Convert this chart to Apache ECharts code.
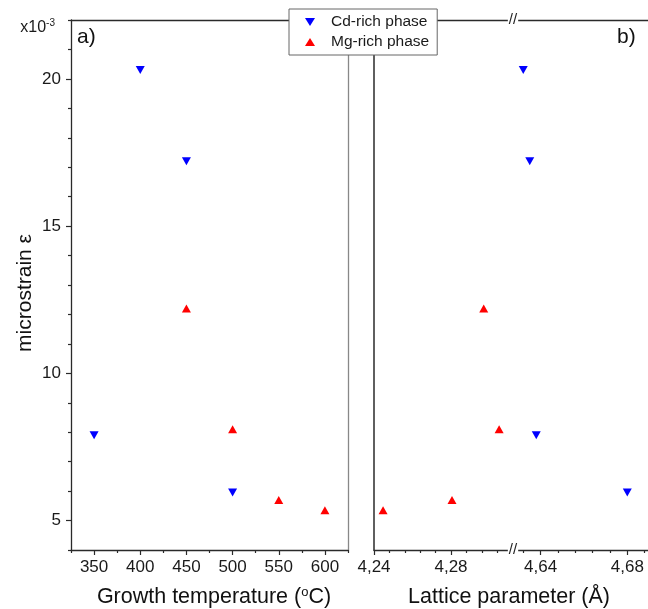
<!DOCTYPE html>
<html>
<head>
<meta charset="utf-8">
<script src="https://cdn.jsdelivr.net/npm/echarts@6/dist/echarts.min.js"></script>
<style>html,body{margin:0;padding:0;background:#fff}#c{width:648px;height:609px}</style>
</head>
<body>
<div id="c"></div>
<script>
// ---- data ----
const tempCd = [350, 400, 450, 500];
const strainCd = [7.9, 20.3, 17.2, 5.95];
const tempMg = [450, 500, 550, 600];
const strainMg = [12.2, 8.1, 5.7, 5.35];
const latticeCd = [4.632, 4.635, 4.638, 4.680];
const latticeMg = [4.2447, 4.2805, 4.297, 4.305];
const strainCdB = [20.3, 17.2, 7.9, 5.95];
const strainMgB = [5.35, 5.7, 12.2, 8.1];
const tempTicks = [350, 400, 450, 500, 550, 600];
const tempMinor = [325, 375, 425, 475, 525, 575, 625];
const strainTicks = [5, 10, 15, 20];
const strainMinor = [4, 6, 7, 8, 9, 11, 12, 13, 14, 16, 17, 18, 19, 21, 22];
const latTicksA = [4.24, 4.28];
const latMinorA = [4.248, 4.256, 4.264, 4.272, 4.288, 4.296, 4.304];
const latTicksB = [4.64, 4.68];
const latMinorB = [4.632, 4.648, 4.656, 4.664, 4.672, 4.688];

const FONT = "'Liberation Sans', Arial, sans-serif";
const DARK = '#2a2a2a';
const downTri = 'path://M0,0 L10,0 L5,8 Z';
const upTri = 'path://M5,0 L10,8 L0,8 Z';

const fmtComma = v => v.toFixed(2).replace('.', ',');

function mainX(grid, min, max, ticks, fmt) {
  return {type: 'value', gridIndex: grid, position: 'bottom', min, max,
    axisLine: {show: true, lineStyle: {color: DARK, width: 1.3}},
    axisTick: {show: true, inside: false, length: 5, customValues: ticks, lineStyle: {color: DARK, width: 1.2}},
    axisLabel: {show: true, customValues: ticks, margin: 9, fontSize: 17, color: '#1a1a1a', fontFamily: FONT, formatter: fmt},
    splitLine: {show: false}};
}
function minorX(grid, min, max, ticks) {
  return {type: 'value', gridIndex: grid, position: 'bottom', min, max,
    axisLine: {show: false},
    axisTick: {show: true, length: 3, customValues: ticks, lineStyle: {color: DARK, width: 1.2}},
    axisLabel: {show: false}, splitLine: {show: false}};
}
function topX(grid, min, max, color) {
  return {type: 'value', gridIndex: grid, position: 'top', min, max,
    axisLine: {show: true, lineStyle: {color: color, width: 1.3}},
    axisTick: {show: false}, axisLabel: {show: false}, splitLine: {show: false}};
}

const option = {
  animation: false,
  backgroundColor: '#fff',
  textStyle: {fontFamily: FONT},
  grid: [
    {left: 71, top: 20, width: 277, height: 530},
    {left: 374, top: 20, width: 139, height: 530},
    {left: 513, top: 20, width: 137, height: 530}
  ],
  xAxis: [
    mainX(0, 325, 625, tempTicks, v => String(v)),
    minorX(0, 325, 625, tempMinor),
    topX(0, 325, 625, DARK),
    mainX(1, 4.24, 4.3122, latTicksA, fmtComma),
    minorX(1, 4.24, 4.3122, latMinorA),
    topX(1, 4.24, 4.3122, DARK),
    mainX(2, 4.62727, 4.68955, latTicksB, fmtComma),
    minorX(2, 4.62727, 4.68955, latMinorB),
    topX(2, 4.62727, 4.68955, DARK)
  ],
  yAxis: [
    {type: 'value', gridIndex: 0, position: 'left', min: 4, max: 22,
      axisLine: {show: true, lineStyle: {color: DARK, width: 1.3}},
      axisTick: {show: true, length: 5, customValues: strainTicks, lineStyle: {color: DARK, width: 1.2}},
      axisLabel: {show: true, customValues: strainTicks, margin: 10, fontSize: 17, color: '#1a1a1a', fontFamily: FONT},
      splitLine: {show: false}},
    {type: 'value', gridIndex: 0, position: 'left', min: 4, max: 22,
      axisLine: {show: false},
      axisTick: {show: true, length: 3, customValues: strainMinor, lineStyle: {color: DARK, width: 1.2}},
      axisLabel: {show: false}, splitLine: {show: false}},
    {type: 'value', gridIndex: 0, position: 'right', min: 4, max: 22,
      axisLine: {show: true, lineStyle: {color: '#888', width: 1.3}},
      axisTick: {show: false}, axisLabel: {show: false}, splitLine: {show: false}},
    {type: 'value', gridIndex: 1, position: 'left', min: 4, max: 22,
      axisLine: {show: true, lineStyle: {color: DARK, width: 1.5}},
      axisTick: {show: false}, axisLabel: {show: false}, splitLine: {show: false}},
    {type: 'value', gridIndex: 2, position: 'left', min: 4, max: 22, show: false,
      splitLine: {show: false}}
  ],
  legend: {
    orient: 'vertical', left: 289, top: 9,
    padding: [5, 8, 5, 16], itemGap: 4,
    itemWidth: 10, itemHeight: 8,
    backgroundColor: '#fff', borderColor: '#666', borderWidth: 1,
    textStyle: {fontSize: 15.5, color: '#1a1a1a', fontFamily: FONT, lineHeight: 16, padding: [0, 0, 0, 11]},
    data: ['Cd-rich phase', 'Mg-rich phase']
  },
  series: [
    {name: 'Cd-rich phase', type: 'scatter', xAxisIndex: 0, yAxisIndex: 0,
      symbol: downTri, symbolSize: [9, 8], itemStyle: {color: '#0000ff', opacity: 1},
      data: tempCd.map((x, i) => [x, strainCd[i]])},
    {name: 'Mg-rich phase', type: 'scatter', xAxisIndex: 0, yAxisIndex: 0,
      symbol: upTri, symbolSize: [9, 8], itemStyle: {color: '#ff0000', opacity: 1},
      data: tempMg.map((x, i) => [x, strainMg[i]])},
    {name: 'Cd-rich phase', type: 'scatter', xAxisIndex: 6, yAxisIndex: 4,
      symbol: downTri, symbolSize: [9, 8], itemStyle: {color: '#0000ff', opacity: 1},
      data: latticeCd.map((x, i) => [x, strainCdB[i]])},
    {name: 'Mg-rich phase', type: 'scatter', xAxisIndex: 3, yAxisIndex: 3,
      symbol: upTri, symbolSize: [9, 8], itemStyle: {color: '#ff0000', opacity: 1},
      data: latticeMg.map((x, i) => [x, strainMgB[i]])}
  ],
  graphic: [
    {type: 'text', left: 77, top: 27, style: {text: 'a)', fontSize: 21, fill: '#111', fontFamily: FONT}},
    {type: 'text', left: 617, top: 27, style: {text: 'b)', fontSize: 21, fill: '#111', fontFamily: FONT}},
    {type: 'text', x: 55, y: 37, style: {text: 'x10{s|-3}', align: 'right', verticalAlign: 'bottom',
      fontSize: 16, fill: '#1a1a1a', fontFamily: FONT,
      rich: {s: {fontSize: 10, verticalAlign: 'top', padding: [0, 0, 9, 0], fill: '#1a1a1a', fontFamily: FONT}}}},
    {type: 'text', x: 25, y: 293, rotation: Math.PI / 2,
      style: {text: 'microstrain ε', align: 'center', verticalAlign: 'middle', fontSize: 21, fill: '#111', fontFamily: FONT}},
    {type: 'text', x: 214, y: 597,
      style: {text: 'Growth temperature ({s|o}C)', align: 'center', verticalAlign: 'middle', fontSize: 21.5, fill: '#111', fontFamily: FONT,
        rich: {s: {fontSize: 13, padding: [0, 0, 9, 0], fill: '#111', fontFamily: FONT}}}},
    {type: 'text', x: 509, y: 597,
      style: {text: 'Lattice parameter (Å)', align: 'center', verticalAlign: 'middle', fontSize: 21.5, fill: '#111', fontFamily: FONT}},
    {type: 'text', x: 513, y: 20, z: 10,
      style: {text: '//', align: 'center', verticalAlign: 'middle', fontSize: 15, fill: '#222', fontFamily: FONT, backgroundColor: '#fff', padding: [0, 1]}},
    {type: 'text', x: 513, y: 550, z: 10,
      style: {text: '//', align: 'center', verticalAlign: 'middle', fontSize: 15, fill: '#222', fontFamily: FONT, backgroundColor: '#fff', padding: [0, 1]}}
  ]
};
const chart = echarts.init(document.getElementById('c'), null, {renderer: 'canvas'});
chart.setOption(option);
</script>
</body>
</html>
